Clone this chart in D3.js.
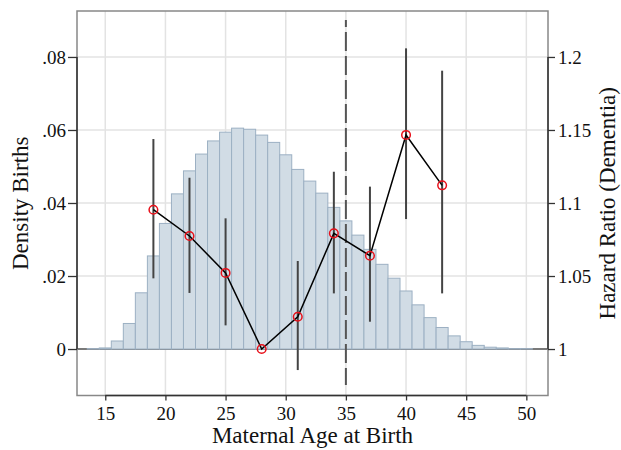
<!DOCTYPE html>
<html>
<head>
<meta charset="utf-8">
<script src="https://cdn.jsdelivr.net/npm/d3@7"></script>
<style>
  html, body { margin: 0; padding: 0; background: #fff; }
  svg { display: block; font-family: "Liberation Serif", "Times New Roman", "DejaVu Serif", serif; }
</style>
</head>
<body>
<svg id="chart" width="621" height="450"></svg>
<script>
// ---- Data ----
const binAges = [14,15,16,17,18,19,20,21,22,23,24,25,26,27,28,29,30,31,32,33,34,35,36,37,38,39,40,41,42,43,44,45,46,47,48,49,50];
const density = [0.0001,0.0003,0.0022,0.0070,0.0154,0.0255,0.0344,0.0425,0.0488,0.0534,0.0570,0.0594,0.0605,0.0602,0.0586,0.0566,0.0532,0.0492,0.0460,0.0427,0.0388,0.0351,0.0312,0.0273,0.0232,0.0194,0.0159,0.0121,0.0086,0.0059,0.0036,0.0020,0.0010,0.0005,0.0003,0.0001,0.0001];
const hrAges = [19,22,25,28,31,34,37,40,43];
const hr     = [1.0954,1.0774,1.0521,1.0000,1.0221,1.0792,1.0639,1.1466,1.1121];
const hrLow  = [1.0484,1.0384,1.0162,null,0.9856,1.0381,1.0187,1.0890,1.0381];
const hrHigh = [1.1438,1.1173,1.0895,null,1.0603,1.1214,1.1112,1.2059,1.1906];
const xTicks = [15,20,25,30,35,40,45,50];
const yTicks = [0,0.02,0.04,0.06,0.08];
const yTickLabels = ["0",".02",".04",".06",".08"];
const y2Ticks = [1,1.05,1.1,1.15,1.2];
const y2TickLabels = ["1","1.05","1.1","1.15","1.2"];
const cutoffAge = 35;
const xTitle = "Maternal Age at Birth";
const yTitle = "Density Births";
const y2Title = "Hazard Ratio (Dementia)";

// ---- Layout ----
const L = 77, R = 548, T = 11, B = 395.5;
const FONT = "Liberation Serif, Times New Roman, DejaVu Serif, serif";
const svg = d3.select("#chart");

const x = d3.scaleLinear().domain([12.65, 51.8]).range([L, R]);
const y = d3.scaleLinear().domain([-0.01273, 0.09259]).range([B, T]);
const y2 = d3.scaleLinear().domain([1 - 0.01273*2.5, 1 + 0.09259*2.5]).range([B, T]);

// gridlines
const grid = svg.append("g");
grid.selectAll("line.gx").data(xTicks).join("line")
  .attr("x1", d => x(d)).attr("x2", d => x(d)).attr("y1", T).attr("y2", B)
  .attr("stroke", "#e3e3e3").attr("stroke-width", 1.5);
grid.selectAll("line.gy").data(yTicks).join("line")
  .attr("x1", L).attr("x2", R).attr("y1", d => y(d)).attr("y2", d => y(d))
  .attr("stroke", "#e3e3e3").attr("stroke-width", 1.5);

// zero baseline
svg.append("line").attr("x1", L).attr("x2", R).attr("y1", y(0)).attr("y2", y(0))
  .attr("stroke", "#555").attr("stroke-width", 1.5);

// histogram bars
svg.append("g").selectAll("rect").data(binAges.map((a,i)=>({a, d: density[i]}))).join("rect")
  .attr("x", d => x(d.a - 0.5)).attr("width", d => x(d.a + 0.5) - x(d.a - 0.5))
  .attr("y", d => y(d.d)).attr("height", d => y(0) - y(d.d))
  .attr("fill", "#d1dce5").attr("stroke", "#9cb0c3").attr("stroke-width", 1);

// dashed cutoff line
svg.append("line").attr("x1", x(cutoffAge)).attr("x2", x(cutoffAge))
  .attr("y1", 20).attr("y2", 385)
  .attr("stroke", "#555").attr("stroke-width", 2)
  .attr("stroke-dasharray", "19,5").attr("stroke-dashoffset", 12);

// CI lines
const pts = hrAges.map((a,i)=>({a, v: hr[i], lo: hrLow[i], hi: hrHigh[i]}));
svg.append("g").selectAll("line").data(pts.filter(p => p.lo !== null)).join("line")
  .attr("x1", d => x(d.a)).attr("x2", d => x(d.a))
  .attr("y1", d => y2(d.lo)).attr("y2", d => y2(d.hi))
  .attr("stroke", "#444").attr("stroke-width", 2);

// HR line
svg.append("path").datum(pts)
  .attr("d", d3.line().x(d => x(d.a)).y(d => y2(d.v)))
  .attr("fill", "none").attr("stroke", "#000").attr("stroke-width", 1.5);

// HR markers
svg.append("g").selectAll("circle").data(pts).join("circle")
  .attr("cx", d => x(d.a)).attr("cy", d => y2(d.v)).attr("r", 4.3)
  .attr("fill", "none").attr("stroke", "#e8101a").attr("stroke-width", 1.5);

// frame
svg.append("rect").attr("x", L).attr("y", T).attr("width", R - L).attr("height", B - T)
  .attr("fill", "none").attr("stroke", "#888").attr("stroke-width", 1.5);

// axes
const fs = 19;
const axL = svg.append("g").attr("transform", `translate(${L},0)`)
  .call(d3.axisLeft(y).tickValues(yTicks).tickSize(9).tickPadding(2)
    .tickFormat((d,i) => yTickLabels[i]));
const axR = svg.append("g").attr("transform", `translate(${R},0)`)
  .call(d3.axisRight(y2).tickValues(y2Ticks).tickSize(7).tickPadding(3)
    .tickFormat((d,i) => y2TickLabels[i]));
const axB = svg.append("g").attr("transform", `translate(0,${B})`)
  .call(d3.axisBottom(x).tickValues(xTicks).tickSize(5).tickPadding(6)
    .tickFormat(d3.format("d")));
[axL, axR, axB].forEach(g => {
  g.attr("font-family", FONT);
  g.select(".domain").remove();
  g.selectAll(".tick line").attr("stroke", "#333").attr("stroke-width", 1.3);
  g.selectAll(".tick text").attr("font-family", FONT).attr("font-size", fs).attr("fill", "#111");
});
// axis lines over tick ranges
svg.append("line").attr("x1", L).attr("x2", L).attr("y1", y(0.08)).attr("y2", y(0))
  .attr("stroke", "#333").attr("stroke-width", 1.5);
svg.append("line").attr("x1", R).attr("x2", R).attr("y1", y2(1.2)).attr("y2", y2(1))
  .attr("stroke", "#333").attr("stroke-width", 1.5);
svg.append("line").attr("x1", x(15)).attr("x2", x(50)).attr("y1", B).attr("y2", B)
  .attr("stroke", "#333").attr("stroke-width", 1.5);

// titles
svg.append("text").attr("x", (L + R) / 2).attr("y", 443).attr("text-anchor", "middle")
  .attr("font-family", FONT).attr("font-size", 23).attr("fill", "#111").text(xTitle);
svg.append("text").attr("transform", `translate(28,${(T + B) / 2}) rotate(-90)`)
  .attr("text-anchor", "middle").attr("font-family", FONT).attr("font-size", 23).attr("fill", "#111").text(yTitle);
svg.append("text").attr("transform", `translate(615,${(T + B) / 2}) rotate(-90)`)
  .attr("text-anchor", "middle").attr("font-family", FONT).attr("font-size", 23).attr("fill", "#111").text(y2Title);
</script>
</body>
</html>
